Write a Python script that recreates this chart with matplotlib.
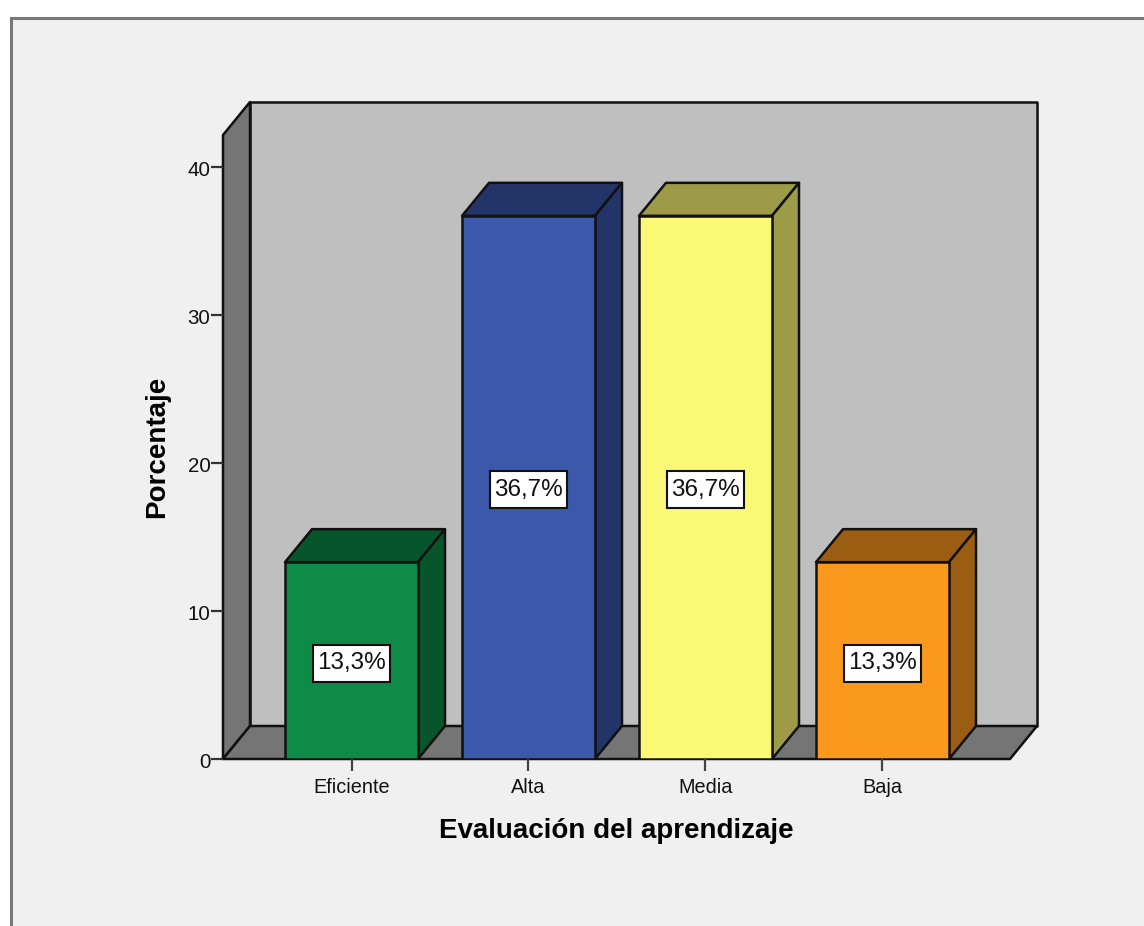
import matplotlib
matplotlib.use('Agg')
import matplotlib.pyplot as plt
from matplotlib.patches import Polygon, Rectangle
from matplotlib.transforms import ScaledTranslation

categories = ['Eficiente', 'Alta', 'Media', 'Baja']
values = [13.3, 36.7, 36.7, 13.3]
labels = ['13,3%', '36,7%', '36,7%', '13,3%']
front_colors = ['#0e8c47', '#3c58aa', '#fbf875', '#fb981e']
top_colors = ['#07562b', '#223468', '#9d9a48', '#9a5d12']
yticks = [0, 10, 20, 30, 40]

W, H = 1144, 926
plt.rcParams['font.family'] = ['Liberation Sans', 'DejaVu Sans']

fig = plt.figure(figsize=(W / 100, H / 100), dpi=100, facecolor='white')
bg = fig.add_axes([0, 0, 1, 1])
bg.set_xlim(0, W)
bg.set_ylim(H, 0)
bg.axis('off')

# chart frame, open at the bottom and right
bg.add_patch(Rectangle((11, 18), W, H, fc='#f0f0f0', ec='#787878', lw=2.2))

# floor/wall geometry in pixels
x0, y0 = 223, 759
dx, dy = 27, -33
right = 1010
top = 135
dark = '#757575'
wall = '#bfbfbf'
line_w = 1.8


def side(pts, fc):
    bg.add_patch(Polygon(pts, closed=True, fc=fc, ec='#111111', lw=line_w, joinstyle='round'))


side([(x0 + dx, top + dy), (right + dx, top + dy), (right + dx, y0 + dy), (x0 + dx, y0 + dy)], wall)
side([(x0, top), (x0 + dx, top + dy), (x0 + dx, y0 + dy), (x0, y0)], dark)
side([(x0, y0), (x0 + dx, y0 + dy), (right + dx, y0 + dy), (right, y0)], dark)

# real axis over the front plane, for the value scale
ax = fig.add_axes([x0 / W, 1 - y0 / H, (right - x0) / W, (y0 - top) / H])
ax.patch.set_alpha(0)
ax.set_xlim(x0, right)
px_per_unit = (759 - 167) / 40
ax.set_ylim(0, (y0 - top) / px_per_unit)
for s in ['top', 'right', 'bottom', 'left']:
    ax.spines[s].set_visible(False)
ax.set_yticks(yticks)
ax.tick_params(axis='y', length=8.5, width=1.6, labelsize=14.8, pad=0.5, color='#333333', labelcolor='#111111')
# tick numbers sit a bit under their tick marks
shift = ScaledTranslation(0, -2 / 100, fig.dpi_scale_trans)
for t in ax.get_yticklabels():
    t.set_transform(t.get_transform() + shift)
ax.set_ylabel('Porcentaje', fontsize=20, fontweight='bold', va='center')
ax.yaxis.set_label_coords((157 - x0) / (right - x0), (y0 - 447) / (y0 - top))

bar_left = [285, 462, 639, 816]
bar_w = 133
box_w, box_h = 77, 37
for i, v in enumerate(values):
    l = bar_left[i]
    r = l + bar_w
    h = v
    ax.bar(l, h, width=bar_w, align='edge', color=front_colors[i], edgecolor='#111111', linewidth=line_w, zorder=3)
    tp = y0 - h * px_per_unit
    side([(l, tp), (l + dx, tp + dy), (r + dx, tp + dy), (r, tp)], top_colors[i])
    side([(r, tp), (r + dx, tp + dy), (r + dx, y0 + dy), (r, y0)], top_colors[i])
    # value label box, sits a little under the middle of the bar
    mid = h / 2 - 2.5 / px_per_unit
    cx = l + bar_w / 2
    ax.add_patch(Rectangle((cx - box_w / 2, mid - box_h / 2 / px_per_unit), box_w, box_h / px_per_unit,
                           fc='white', ec='#111111', lw=1.5, zorder=4))
    ax.text(cx, mid, labels[i], ha='center', va='center', fontsize=17.5, color='#111111', zorder=5)

ax.set_xticks([l + bar_w / 2 for l in bar_left])
ax.set_xticklabels(categories)
ax.tick_params(axis='x', length=8.5, width=1.6, labelsize=14.3, pad=5, color='#444444', labelcolor='#111111')
ax.set_xlabel('Evaluación del aprendizaje', fontsize=20, fontweight='bold', labelpad=15)

fig.savefig('out.png', dpi=100)
